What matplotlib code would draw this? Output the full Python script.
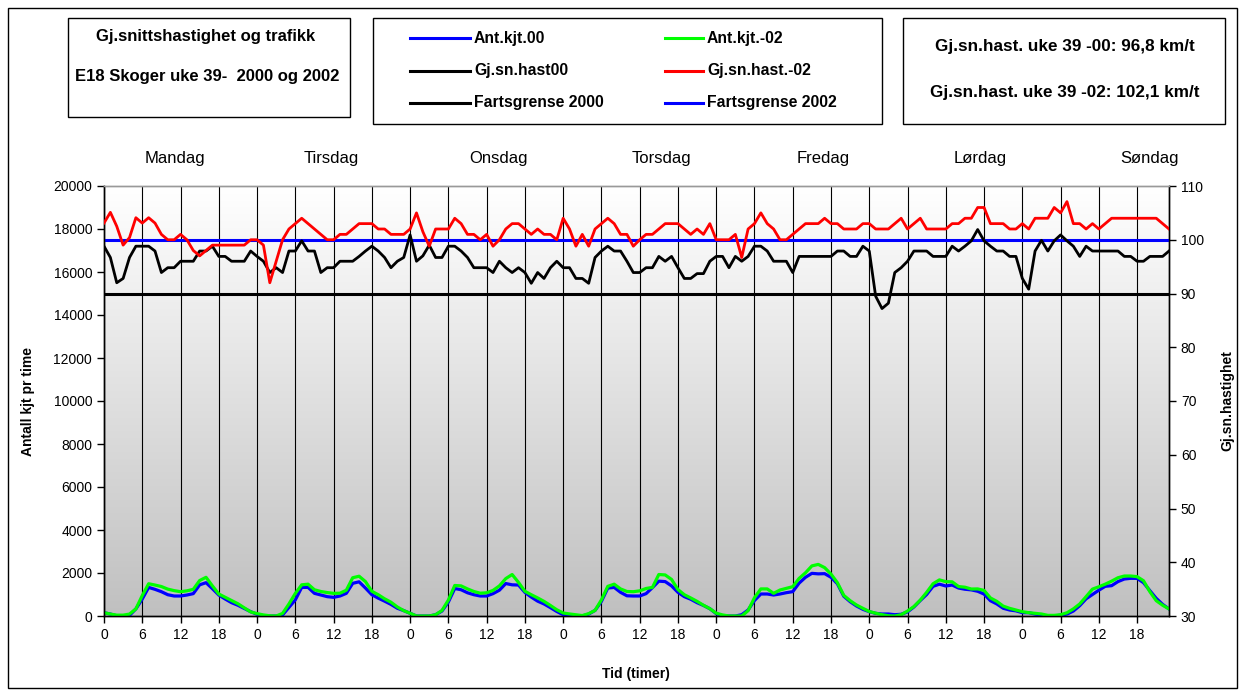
import numpy as np
import matplotlib
matplotlib.use('Agg')
import matplotlib.pyplot as plt
from matplotlib.lines import Line2D
from matplotlib.patches import Rectangle
from matplotlib.colors import LinearSegmentedColormap

plt.rcParams['font.family'] = ['Liberation Sans', 'DejaVu Sans']
plt.rcParams['font.size'] = 10

W, H = 1244, 695

# hourly values, week 39, Monday 00:00 -> Sunday 23:00
hours = np.arange(168)
day_names = ['Mandag', 'Tirsdag', 'Onsdag', 'Torsdag', 'Fredag', 'Lørdag', 'Søndag']

# vehicles per hour, 2000
traffic_00 = [
    155, 90, 10, 0, 30, 330, 790, 1330, 1240, 1130, 990, 930, 930, 976, 1040, 1450, 1550, 1270, 976, 790, 620, 500, 350, 200,
    80, 10, 0, 0, 50, 400, 750, 1330, 1330, 1054, 976, 900, 868, 930, 1054, 1520, 1590, 1300, 990, 830, 690, 540, 360, 250,
    124, 0, 0, 0, 60, 230, 650, 1280, 1220, 1080, 990, 930, 930, 1040, 1200, 1510, 1450, 1440, 1100, 880, 690, 560, 390, 210,
    60, 0, 0, 0, 90, 260, 680, 1300, 1330, 1100, 940, 930, 930, 1040, 1320, 1620, 1600, 1400, 1100, 900, 780, 620, 490, 340,
    110, 10, 0, 0, 60, 279, 720, 1023, 1023, 976, 1023, 1085, 1132, 1530, 1800, 1984, 1960, 1970, 1800, 1500, 920, 666, 465, 310,
    201, 124, 93, 93, 60, 80, 190, 420, 720, 1000, 1380, 1480, 1395, 1440, 1300, 1245, 1215, 1150, 1020, 710, 560, 360, 279, 240,
    155, 155, 90, 45, 0, 0, 40, 90, 230, 480, 800, 1000, 1200, 1380, 1410, 1600, 1720, 1752, 1750, 1550, 1180, 820, 540, 330,
]

# vehicles per hour, 2002
traffic_02 = [
    155, 90, 40, 40, 90, 330, 950, 1500, 1440, 1370, 1250, 1180, 1130, 1170, 1240, 1650, 1800, 1400, 1023, 870, 720, 570, 380, 190,
    110, 50, 10, 0, 120, 560, 1050, 1450, 1480, 1220, 1140, 1090, 1054, 1060, 1200, 1780, 1850, 1600, 1150, 990, 800, 640, 420, 250,
    124, 0, 0, 0, 60, 260, 740, 1420, 1400, 1260, 1140, 1060, 1080, 1190, 1400, 1740, 1930, 1560, 1150, 990, 840, 680, 490, 290,
    140, 95, 60, 20, 110, 260, 750, 1380, 1480, 1260, 1140, 1130, 1170, 1280, 1330, 1930, 1910, 1700, 1230, 990, 840, 680, 500, 340,
    130, 50, 0, 0, 0, 248, 850, 1260, 1260, 1054, 1209, 1287, 1364, 1750, 2010, 2330, 2400, 2250, 1950, 1550, 960, 713, 511, 357,
    210, 130, 60, 10, 0, 60, 230, 440, 740, 1100, 1500, 1680, 1597, 1590, 1370, 1340, 1255, 1260, 1190, 840, 680, 460, 357, 280,
    200, 155, 124, 93, 30, 30, 60, 150, 330, 560, 900, 1250, 1360, 1480, 1620, 1780, 1860, 1860, 1830, 1640, 1130, 713, 500, 330,
]

# mean speed km/h, 2000
speed_00 = [
    98.8, 96.7, 92.0, 92.8, 96.7, 98.8, 98.8, 98.8, 97.9, 93.9, 94.8, 94.8, 96.0, 96.0, 96.0, 97.9, 97.9, 98.8, 96.9, 96.9, 96.0, 96.0, 96.0, 97.9,
    96.9, 96.0, 93.9, 94.8, 93.9, 97.9, 97.9, 99.8, 97.9, 97.9, 93.9, 94.8, 94.8, 96.0, 96.0, 96.0, 96.9, 97.9, 98.8, 97.9, 96.7, 94.8, 96.0, 96.7,
    100.9, 96.0, 97.0, 99.0, 96.7, 96.7, 98.8, 98.8, 97.9, 96.7, 94.8, 94.8, 94.8, 93.9, 96.0, 94.8, 93.9, 94.8, 93.9, 91.9, 93.9, 92.8, 94.8, 96.0,
    94.8, 94.8, 92.8, 92.8, 91.9, 96.7, 97.9, 98.8, 97.9, 97.9, 96.0, 93.9, 93.9, 94.8, 94.8, 96.9, 96.0, 96.9, 94.8, 92.8, 92.8, 93.7, 93.7, 96.0,
    96.9, 96.9, 94.8, 96.9, 96.0, 96.9, 98.8, 98.8, 97.9, 96.0, 96.0, 96.0, 93.9, 96.9, 96.9, 96.9, 96.9, 96.9, 96.9, 97.9, 97.9, 96.9, 96.9, 98.8,
    97.9, 89.5, 87.2, 88.2, 93.9, 94.8, 96.0, 97.9, 97.9, 97.9, 96.9, 96.9, 96.9, 98.8, 97.9, 98.8, 99.8, 101.9, 99.8, 98.8, 97.9, 97.9, 96.9, 96.9,
    92.8, 90.8, 97.9, 99.9, 97.9, 99.8, 100.9, 99.8, 98.8, 96.9, 98.8, 97.9, 97.9, 97.9, 97.9, 97.9, 96.9, 96.9, 96.0, 96.0, 96.9, 96.9, 96.9, 97.9,
]

# mean speed km/h, 2002
speed_02 = [
    103.1, 105.1, 102.5, 99.0, 100.4, 104.1, 103.1, 104.1, 103.1, 101.0, 100.0, 100.0, 101.0, 100.0, 98.0, 97.0, 98.0, 99.0, 99.0, 99.0, 99.0, 99.0, 99.0, 100.0,
    100.0, 99.0, 92.0, 96.0, 100.0, 102.0, 103.0, 104.0, 103.0, 102.0, 101.0, 100.0, 100.0, 101.0, 101.0, 102.0, 103.0, 103.0, 103.0, 102.0, 102.0, 101.0, 101.0, 101.0,
    102.0, 105.0, 101.5, 98.8, 102.0, 102.0, 102.0, 104.0, 103.0, 101.0, 101.0, 100.0, 101.0, 98.8, 100.0, 102.0, 103.0, 103.0, 102.0, 101.0, 102.0, 101.0, 101.0, 100.0,
    104.0, 102.0, 98.8, 101.0, 98.8, 102.0, 103.0, 104.0, 103.0, 101.0, 101.0, 98.8, 100.0, 101.0, 101.0, 102.0, 103.0, 103.0, 103.0, 102.0, 101.0, 102.0, 101.0, 103.0,
    100.0, 100.0, 100.0, 101.0, 96.7, 102.0, 103.0, 105.0, 103.0, 102.0, 100.0, 100.0, 101.0, 102.0, 103.0, 103.0, 103.0, 104.0, 103.0, 103.0, 102.0, 102.0, 102.0, 103.0,
    103.0, 102.0, 102.0, 102.0, 103.0, 104.0, 102.0, 103.0, 104.0, 102.0, 102.0, 102.0, 102.0, 103.0, 103.0, 104.0, 104.0, 106.0, 106.0, 103.0, 103.0, 103.0, 102.0, 102.0,
    103.0, 102.0, 104.0, 104.0, 104.0, 106.0, 105.0, 107.1, 103.0, 103.0, 102.0, 103.0, 102.0, 103.0, 104.0, 104.0, 104.0, 104.0, 104.0, 104.0, 104.0, 104.0, 103.0, 102.0,
]

# speed limits
limit_00 = 90
limit_02 = 100

mean_00 = '96,8'
mean_02 = '102,1'


def fx(x):
    return x / W


def fy(y):
    return 1 - y / H


fig = plt.figure(figsize=(W / 100, H / 100), dpi=100, facecolor='white')

# plot area in pixel terms: x 104..1169, y 186..616
ax1 = fig.add_axes([fx(104), fy(616), fx(1169) - fx(104), fy(186) - fy(616)])
ax2 = ax1.twinx()

# white -> grey backdrop
bg = LinearSegmentedColormap.from_list('bg', ['#C0C0C0', '#FFFFFF'])
ax1.imshow(np.linspace(0, 1, 256).reshape(-1, 1), cmap=bg, origin='lower',
           extent=(0, 167, 0, 20000), aspect='auto', zorder=0)

ax1.plot(hours, traffic_00, color='#0000FF', lw=2.3, zorder=3, solid_joinstyle='round')
ax1.plot(hours, traffic_02, color='#00FF00', lw=2.3, zorder=4, solid_joinstyle='round')

ax2.axhline(limit_00, color='black', lw=2.2, zorder=2)
ax2.axhline(limit_02, color='#0000FF', lw=2.2, zorder=2)
ax2.plot(hours, speed_00, color='black', lw=2.0, zorder=3)
ax2.plot(hours, speed_02, color='#FF0000', lw=2.0, zorder=4)

ax1.set_xlim(0, 167)
ax1.set_ylim(0, 20000)
ax2.set_ylim(30, 110)

xt = list(range(0, 168, 6))
ax1.set_xticks(xt)
ax1.set_xticklabels([str(h % 24) for h in xt])
ax1.set_yticks(range(0, 20001, 2000))
ax2.set_yticks(range(30, 111, 10))
ax1.xaxis.grid(True, color='black', lw=0.8)

for a in (ax1, ax2):
    a.tick_params(direction='out', length=5, width=1, labelsize=10, colors='black')
    for s in ('left', 'right', 'bottom'):
        a.spines[s].set_color('black')
        a.spines[s].set_linewidth(1)
    a.spines['top'].set_color('#999999')
    a.spines['top'].set_linewidth(1)

ax1.set_xlabel('Tid (timer)', fontweight='bold', fontsize=10)
ax1.xaxis.set_label_coords((636 - 104) / 1065, (616 - 667) / 430)
ax1.set_ylabel('Antall kjt pr time', fontweight='bold', fontsize=10)
ax1.yaxis.set_label_coords((35 - 104) / 1065, 0.5)
ax2.set_ylabel('Gj.sn.hastighet', fontweight='bold', fontsize=10)
ax2.yaxis.set_label_coords((1220 - 104) / 1065, 0.5)

# weekday names above the plot
day_x = [175, 331, 498, 661, 823, 980, 1150]
for name, x in zip(day_names, day_x):
    fig.text(fx(x), fy(158), name, ha='center', va='center', fontsize=12)


def box(x0, y0, x1, y1):
    fig.add_artist(Rectangle((fx(x0), fy(y1)), fx(x1) - fx(x0), fy(y0) - fy(y1),
                             transform=fig.transFigure, fill=False,
                             edgecolor='black', lw=1))


# outer frame and the three header boxes
box(8, 8, 1237, 688)
box(68, 18, 350, 117)
box(373, 18, 882, 124)
box(903, 18, 1225, 124)

fig.text(fx(206), fy(36), 'Gj.snittshastighet og trafikk', ha='center', va='center',
         fontsize=12, fontweight='bold')
fig.text(fx(207), fy(77), 'E18 Skoger uke 39-  2000 og 2002', ha='center', va='center',
         fontsize=12, fontweight='bold')

fig.text(fx(1065), fy(46), f'Gj.sn.hast. uke 39 -00: {mean_00} km/t', ha='center',
         va='center', fontsize=12.3, fontweight='bold')
fig.text(fx(1065), fy(92), f'Gj.sn.hast. uke 39 -02: {mean_02} km/t', ha='center',
         va='center', fontsize=12.3, fontweight='bold')

# legend keys
legend_rows = [
    (410, 470, 474, 38, '#0000FF', 'Ant.kjt.00'),
    (410, 470, 474, 71, 'black', 'Gj.sn.hast00'),
    (410, 470, 474, 103, 'black', 'Fartsgrense 2000'),
    (665, 703, 707, 38, '#00FF00', 'Ant.kjt.-02'),
    (665, 703, 707, 71, '#FF0000', 'Gj.sn.hast.-02'),
    (665, 703, 707, 103, '#0000FF', 'Fartsgrense 2002'),
]
for x0, x1, xt_, y, c, lab in legend_rows:
    fig.add_artist(Line2D([fx(x0), fx(x1)], [fy(y), fy(y)], transform=fig.transFigure,
                          color=c, lw=2.2))
    fig.text(fx(xt_), fy(y), lab, ha='left', va='center', fontsize=11.3, fontweight='bold')

fig.savefig('out.png', dpi=100, facecolor='white')
